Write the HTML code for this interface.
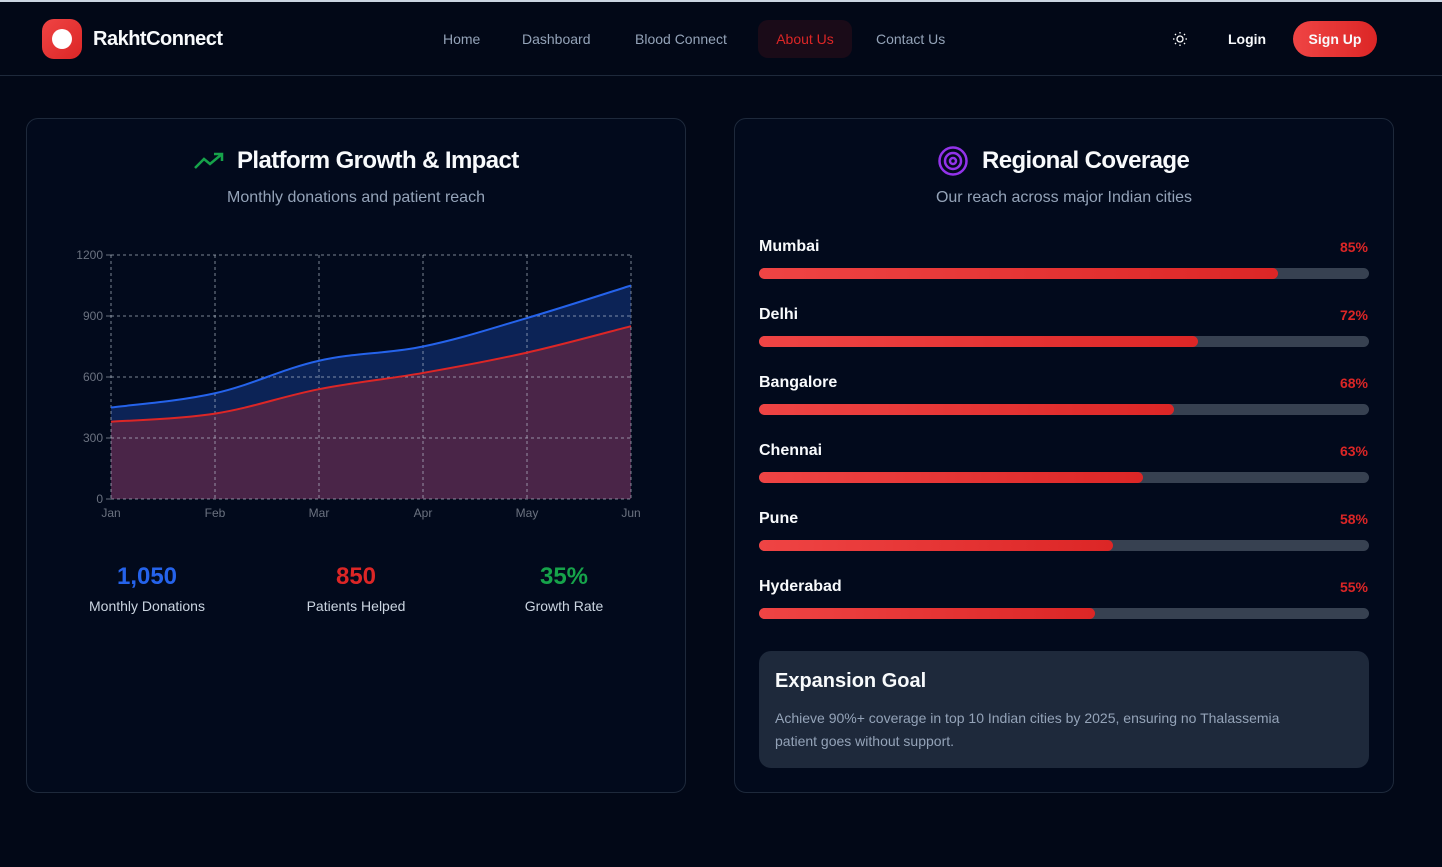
<!DOCTYPE html>
<html><head><meta charset="utf-8">
<style>
*{box-sizing:border-box;margin:0;padding:0}
body{width:1442px;height:867px;background:#020817;font-family:"Liberation Sans",sans-serif;color:#f8fafc;overflow:hidden;position:relative}
.nav{position:absolute;left:0;top:0;width:1442px;height:76px;border-top:2px solid #cbd5e1;border-bottom:1px solid #1e293b;background:#020817}
.logo{position:absolute;left:42px;top:17px;width:40px;height:40px;border-radius:12px;background:linear-gradient(135deg,#ef4444,#dc2626)}
.logo:after{content:"";position:absolute;left:10px;top:10px;width:20px;height:20px;border-radius:50%;background:#fff}
.brand{position:absolute;left:93px;top:26px;font-size:20px;font-weight:bold;letter-spacing:-0.5px}
.nl{position:absolute;top:29px;font-size:14px;color:#94a3b8}
.about{position:absolute;left:758px;top:18px;width:94px;height:38px;border-radius:10px;background:#1a0b18;color:#dc2626;font-size:14px;text-align:center;line-height:38px}
.login{position:absolute;left:1228px;top:29px;font-size:14px;font-weight:bold}
.signup{position:absolute;left:1293px;top:19px;width:84px;height:36px;border-radius:18px;background:linear-gradient(90deg,#ef4444,#dc2626);font-size:14px;font-weight:bold;text-align:center;line-height:36px}
.card{position:absolute;top:118px;width:660px;height:675px;border:1px solid #1e293b;border-radius:12px;background:#020a1c}
.title{position:absolute;top:147px;font-size:24px;font-weight:bold;letter-spacing:-0.6px}
.sub{position:absolute;top:189px;font-size:16px;color:#94a3b8;text-align:center}
.stat{position:absolute;top:563px;width:200px;text-align:center}
.stat b{display:block;font-size:24px}
.stat span{display:block;font-size:14px;color:#cbd5e1;margin-top:7px}
.city{position:absolute;left:759px;font-size:16px;font-weight:bold}
.pct{position:absolute;right:74px;font-size:14px;color:#dc2626;font-weight:bold}
.track{position:absolute;left:759px;width:610px;height:11px;border-radius:6px;background:#374151}
.fill{height:11px;border-radius:6px;background:linear-gradient(90deg,#ef4444,#dc2626)}
.goal{position:absolute;left:759px;top:651px;width:610px;height:117px;border-radius:12px;background:#1e293b}
</style></head><body>
<div class="nav">
<div class="logo"></div>
<div class="brand">RakhtConnect</div>
<div class="nl" style="left:443px">Home</div>
<div class="nl" style="left:522px">Dashboard</div>
<div class="nl" style="left:635px">Blood Connect</div>
<div class="about">About Us</div>
<div class="nl" style="left:876px">Contact Us</div>
<svg style="position:absolute;left:1172px;top:29px" width="16" height="16" viewBox="0 0 16 16"><circle cx="8" cy="8" r="3" fill="none" stroke="#fff" stroke-width="1.3"/><g stroke="#fff" stroke-width="1.3"><line x1="8" y1="1" x2="8" y2="2.5"/><line x1="8" y1="13.5" x2="8" y2="15"/><line x1="1" y1="8" x2="2.5" y2="8"/><line x1="13.5" y1="8" x2="15" y2="8"/><line x1="3" y1="3" x2="4" y2="4"/><line x1="12" y1="12" x2="13" y2="13"/><line x1="3" y1="13" x2="4" y2="12"/><line x1="12" y1="4" x2="13" y2="3"/></g></svg>
<div class="login">Login</div>
<div class="signup">Sign Up</div>
</div>

<div class="card" style="left:26px"></div>
<svg style="position:absolute;left:194px;top:152px" width="30" height="18" viewBox="0 0 30 18"><polyline points="1,16 10,7 16,12 28,2" fill="none" stroke="#16a34a" stroke-width="2.5"/><polyline points="20,2 28,2 28,9" fill="none" stroke="#16a34a" stroke-width="2.5"/></svg>
<div class="title" style="left:237px">Platform Growth &amp; Impact</div>
<div class="sub" style="left:26px;width:660px">Monthly donations and patient reach</div>
<svg id="chart" style="position:absolute;left:0;top:0" width="700" height="540"></svg>
<div class="stat" style="left:47px"><b style="color:#2563eb">1,050</b><span>Monthly Donations</span></div>
<div class="stat" style="left:256px"><b style="color:#dc2626">850</b><span>Patients Helped</span></div>
<div class="stat" style="left:464px"><b style="color:#16a34a">35%</b><span>Growth Rate</span></div>

<div class="card" style="left:734px"></div>
<svg style="position:absolute;left:937px;top:145px" width="32" height="32" viewBox="0 0 32 32"><g fill="none" stroke="#9333ea" stroke-width="2.5"><circle cx="16" cy="16" r="13.5"/><circle cx="16" cy="16" r="8"/><circle cx="16" cy="16" r="3"/></g></svg>
<div class="title" style="left:982px">Regional Coverage</div>
<div class="sub" style="left:734px;width:660px">Our reach across major Indian cities</div>
<div id="bars"></div>
<div class="goal">
<div style="position:absolute;left:16px;top:19px;font-size:20px;font-weight:bold">Expansion Goal</div>
<div style="position:absolute;left:16px;top:56px;width:545px;font-size:14px;line-height:23px;color:#94a3b8">Achieve 90%+ coverage in top 10 Indian cities by 2025, ensuring no Thalassemia patient goes without support.</div>
</div>

<script>
const months=["Jan","Feb","Mar","Apr","May","Jun"];
const donations=[450,520,680,750,890,1050];
const patients=[380,420,540,620,720,850];
const yTicks=[0,300,600,900,1200];
const cities=["Mumbai","Delhi","Bangalore","Chennai","Pune","Hyderabad"];
const coverage=[85,72,68,63,58,55];

const NS="http://www.w3.org/2000/svg";
const svg=document.getElementById("chart");
const X0=111,X1=631,Y0=499,Y1=255;
const xs=i=>X0+(X1-X0)*i/(months.length-1);
const ys=v=>Y0-(Y0-Y1)*v/1200;
function mk(t,a){const e=document.createElementNS(NS,t);for(const k in a)e.setAttribute(k,a[k]);svg.appendChild(e);return e;}
function curve(vals){
 const p=vals.map((v,i)=>[xs(i),ys(v)]);
 let d="M"+p[0][0]+","+p[0][1];
 for(let i=0;i<p.length-1;i++){
  const p0=p[Math.max(0,i-1)],p1=p[i],p2=p[i+1],p3=p[Math.min(p.length-1,i+2)];
  const t=0.18;
  d+=` C${p1[0]+(p2[0]-p0[0])*t},${p1[1]+(p2[1]-p0[1])*t} ${p2[0]-(p3[0]-p1[0])*t},${p2[1]-(p3[1]-p1[1])*t} ${p2[0]},${p2[1]}`;
 }
 return d;
}
const dd=curve(donations),pd=curve(patients);
let e=mk("path",{d:dd+` L${X1},${Y0} L${X0},${Y0} Z`,fill:"#0c2356"});

e=mk("path",{d:pd+` L${X1},${Y0} L${X0},${Y0} Z`,fill:"#4a2548"});

yTicks.forEach(v=>{
 const g=mk("line",{x1:X0,x2:X1,y1:ys(v),y2:ys(v),stroke:"#cbd5e1","stroke-opacity":"0.6","stroke-dasharray":"3 3"});
 
 const tk=mk("line",{x1:X0-5,x2:X0,y1:ys(v),y2:ys(v),stroke:"#6b7280"});
 
 const t=mk("text",{x:X0-8,y:ys(v)+4,"text-anchor":"end","font-size":"12",fill:"#6b7280"});
 t.textContent=v;
 
});
months.forEach((m,i)=>{
 const g=mk("line",{x1:xs(i),x2:xs(i),y1:Y1,y2:Y0,stroke:"#cbd5e1","stroke-opacity":"0.6","stroke-dasharray":"3 3"});
 
 const t=mk("text",{x:xs(i),y:Y0+18,"text-anchor":"middle","font-size":"12",fill:"#6b7280"});
 t.textContent=m;
 
});
e=mk("path",{d:dd,fill:"none",stroke:"#2563eb","stroke-width":"2"});

e=mk("path",{d:pd,fill:"none",stroke:"#dc2626","stroke-width":"2"});


const bars=document.getElementById("bars");
cities.forEach((c,i)=>{
 const top=238+i*68;
 const n=document.createElement("div");n.className="city";n.style.top=top+"px";n.textContent=c;
 
 
 const p=document.createElement("div");p.className="pct";p.style.top=(top+1)+"px";p.textContent=coverage[i]+"%";
 
 
 const tr=document.createElement("div");tr.className="track";tr.style.top=(top+30)+"px";
 
 
 const f=document.createElement("div");f.className="fill";f.style.width=coverage[i]+"%";
 
 
 tr.appendChild(f);bars.appendChild(n);bars.appendChild(p);bars.appendChild(tr);
});
</script>
</body></html>
